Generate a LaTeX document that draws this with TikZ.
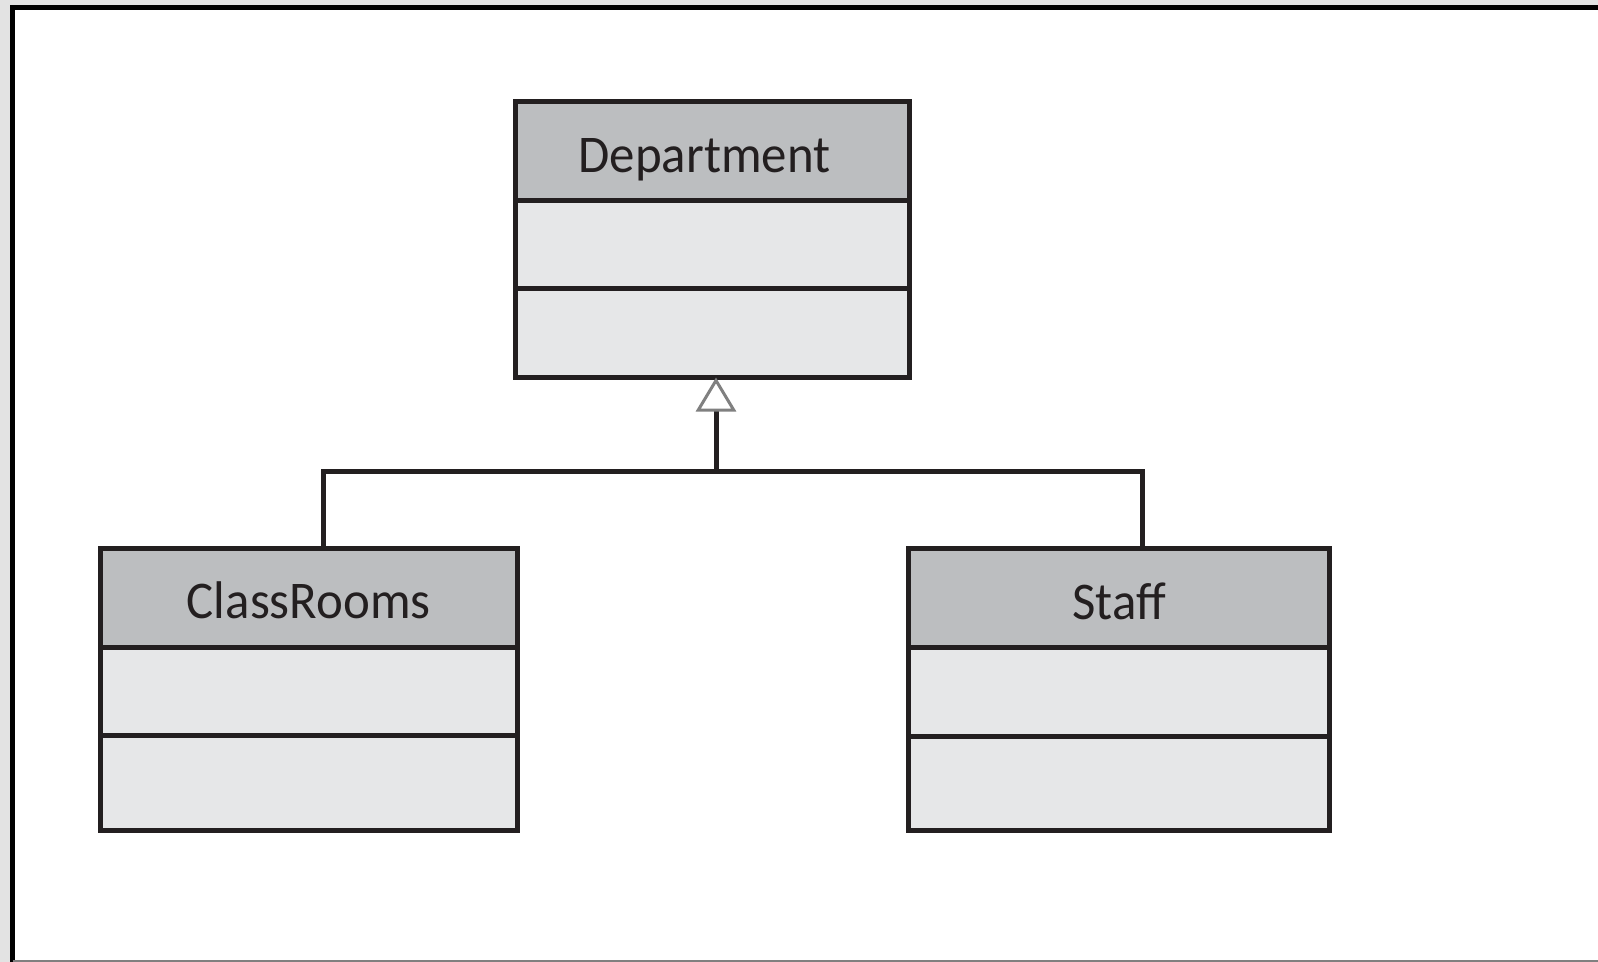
\documentclass[tikz,border=0pt]{standalone}
\usepackage{fontspec}
\setmainfont[FakeStretch=0.96]{Carlito}
\usetikzlibrary{arrows.meta}
\definecolor{linec}{HTML}{231F20}
\definecolor{headc}{HTML}{BCBEC0}
\definecolor{bodyc}{HTML}{E6E7E8}
\definecolor{pagec}{HTML}{E3E3E3}
\begin{document}
\begin{tikzpicture}[x=0.5pt,y=-0.5pt,
  umlpart/.style={draw=linec, line width=2.5pt, inner sep=0pt, outer sep=0pt, anchor=north west, font=\fontsize{26.5pt}{30pt}\selectfont, text=linec},
  umlhead/.style={umlpart, fill=headc, text height=21pt, text depth=0pt},
  umlbody/.style={umlpart, fill=bodyc},
  conn/.style={draw=linec, line width=2.5pt}
]
\useasboundingbox (0,0) rectangle (1598,962);
\fill[pagec] (0,0) rectangle (1598,962);
\fill[white] (12.5,8) rectangle (1598,960);
\draw[black, line width=2.5pt] (12.5,962) -- (12.5,8) -- (1598,8);
\draw[gray, line width=1pt] (12.5,961) -- (1598,961);

% Department
\node[umlhead, minimum width=197pt, minimum height=49.25pt] (dh) at (515.5,102) {Department\kern8pt};
\node[umlbody, minimum width=197pt, minimum height=44pt] (da) at (515.5,200.5) {};
\node[umlbody, minimum width=197pt, minimum height=44.5pt] (do) at (515.5,288.5) {};

% ClassRooms
\node[umlhead, minimum width=208.75pt, minimum height=49.75pt] (ch) at (100,548) {ClassRooms};
\node[umlbody, minimum width=208.75pt, minimum height=44pt] (ca) at (100,647.5) {};
\node[umlbody, minimum width=208.75pt, minimum height=47.25pt] (co) at (100,735.5) {};

% Staff
\node[umlhead, minimum width=210.5pt, minimum height=49.5pt] (sh) at (908.5,548.5) {Staff};
\node[umlbody, minimum width=210.5pt, minimum height=44.25pt] (sa) at (908.5,647.5) {};
\node[umlbody, minimum width=210.5pt, minimum height=47pt] (so) at (908.5,736) {};

% generalization
\coordinate (j) at (716,471);
\draw[conn] ([xshift=7.4pt]ch.north) |- (j) -| ([xshift=11.5pt]sh.north);
\draw[conn, -{Triangle[length=17pt, width=20pt, line width=1.5pt, color=gray, fill=white]}] (j) -- ([xshift=1.75pt]do.south);
\end{tikzpicture}
\end{document}
